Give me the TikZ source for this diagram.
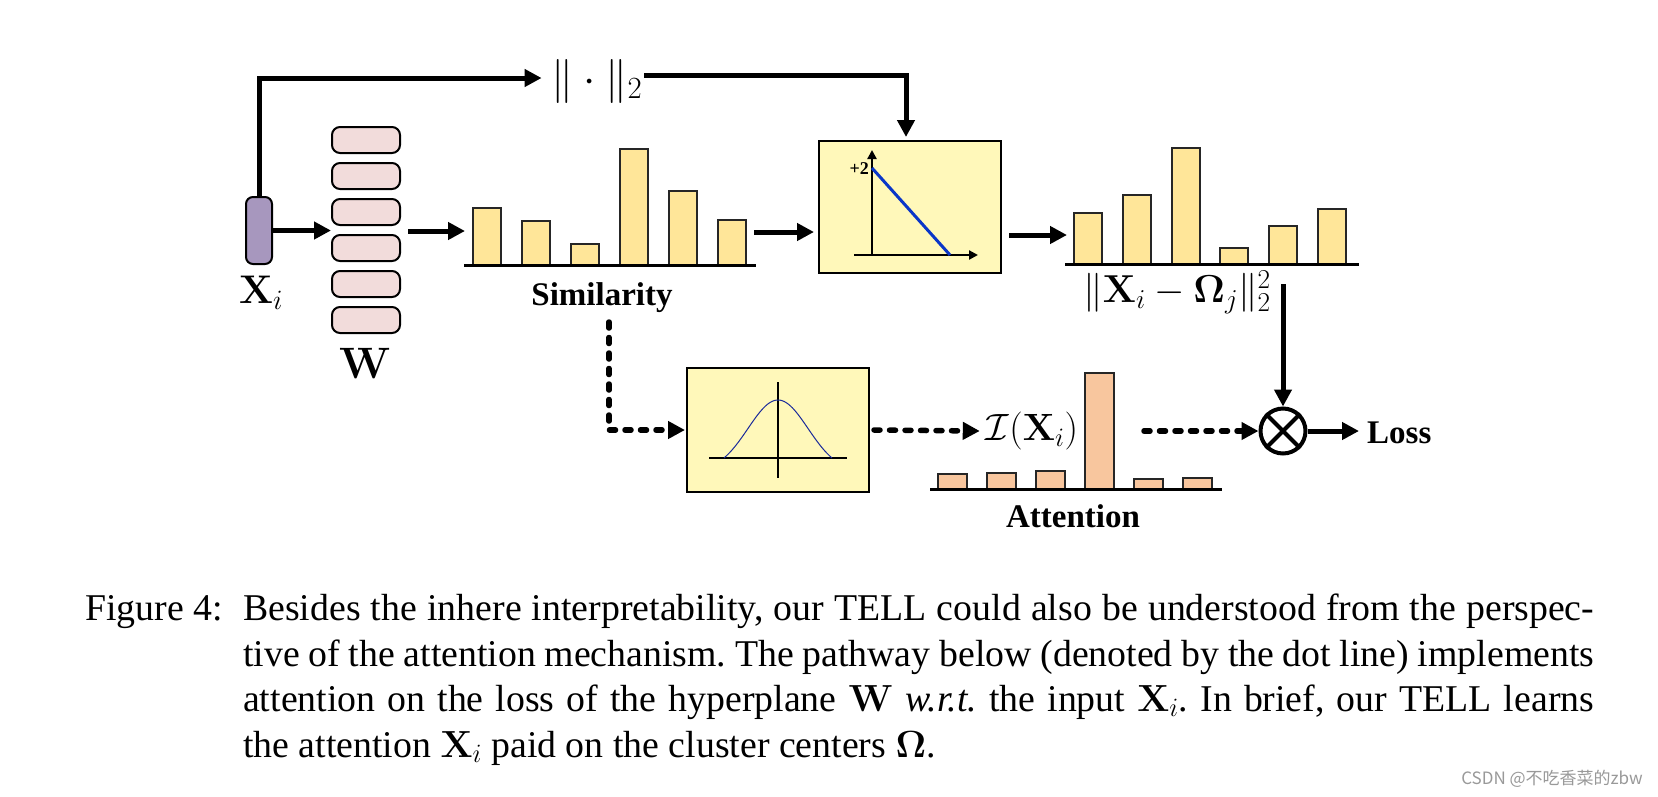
\RequirePackage{fix-cm}
\documentclass[tikz,border=0pt]{standalone}
\usepackage{amsmath}
\usepackage[no-math]{fontspec}
\setmainfont{Liberation Serif}
\newfontfamily\cjkfont{Noto Sans CJK SC}
\usetikzlibrary{arrows.meta,calc}
\newcommand\fsz[1]{\fontsize{#1}{#1}\selectfont}
\definecolor{xipurple}{HTML}{A797BE}
\definecolor{wpink}{HTML}{F2DCDB}
\definecolor{baryel}{HTML}{FFE699}
\definecolor{boxyel}{HTML}{FFF8BA}
\definecolor{peach}{HTML}{F8C69E}
\definecolor{lineblue}{HTML}{0A36C8}
\definecolor{navy}{HTML}{1A2A9A}
\frenchspacing
\begin{document}
\begin{tikzpicture}[x=1pt,y=-1pt,
  arr/.style={line width=5pt,-{Triangle[length=17pt,width=17pt]}},
  darr/.style={line width=5.5pt,line cap=round,dash pattern=on 6pt off 9.5pt,-{Triangle[length=17pt,width=17pt]}},
  xibox/.style={draw,line width=2pt,fill=xipurple,rounded corners=7pt,minimum width=26pt,minimum height=67pt,inner sep=0pt},
  wbox/.style={draw,line width=2pt,fill=wpink,rounded corners=8pt,minimum width=68pt,minimum height=26pt,inner sep=0pt},
  fnbox/.style={draw,line width=2pt,fill=boxyel,inner sep=0pt},
  sbar/.style={draw=black!85,line width=1.5pt,fill=baryel},
  abar/.style={draw=black!85,line width=1.5pt,fill=peach},
  baseln/.style={line width=3pt},
  axln/.style={line width=2.2pt},
  blab/.style={font=\bfseries\fsz{33},inner sep=0pt},
  captxt/.style={font=\fontsize{37.8}{45}\selectfont,inner sep=0pt,anchor=base west}]
\fill[white] (0,0) rectangle (1658,796);
\useasboundingbox (0,0) rectangle (1658,796);

% input and W
\node[xibox] (xi) at (259,230.5) {};
\node[font=\fsz{40},anchor=base,inner sep=0pt] (xil) at (261,303) {$\mathbf{X}_i$};
\foreach \k/\yy in {1/140,2/176,3/212,4/248,5/284,6/320}
  \node[wbox] (w\k) at (366,\yy) {};
\node[font=\fsz{44},anchor=base,inner sep=0pt] (wl) at (365,378) {$\mathbf{W}$};
\draw[arr] (xi.east) -- (xi.east -| w1.west);

% norm
\node[font=\fsz{44},anchor=base,inner sep=0pt] (norm) at (597,92) {$\|\cdot\|_2$};
\draw[arr] (xi.north) |- ([xshift=-10pt,yshift=3pt]norm.west);

% similarity chart
\foreach \x/\t in {473/208,522/221,571/244,620/149,669/191,718/220}
  \draw[sbar] (\x,265) rectangle (\x+28,\t);
\draw[baseln] (464,265) -- (756,265);
\node[blab,anchor=base] (siml) at (602,305) {Similarity};
\coordinate (simIn) at (465,231);
\draw[arr] ($(w1.east |- simIn)+(7,0)$) -- (simIn);

% linear box
\node[fnbox,minimum width=182pt,minimum height=132pt] (box1) at (910,207) {};
\draw[axln,-{Triangle[length=9pt,width=9pt]}] (872,255) -- (872,150);
\draw[axln,-{Triangle[length=9pt,width=9pt]}] (854,255) -- (978,255);
\draw[line width=3pt,lineblue] (872,168) -- (950,255);
\node[font=\bfseries\fsz{18},anchor=east,inner sep=0pt] (p2) at (869,169) {+2};
\draw[arr,shorten >=3pt] ([xshift=2pt,yshift=6pt]norm.east) -| ([xshift=-4pt]box1.north);
\coordinate (simOut) at (754,232);
\draw[arr,shorten >=4pt] (simOut) -- (simOut -| box1.west);

% distance chart
\foreach \x/\t in {1074/213,1123/195,1172/148,1220/248,1269/226,1318/209}
  \draw[sbar] (\x,264) rectangle (\x+28,\t);
\draw[baseln] (1065,264) -- (1359,264);
\coordinate (dIn) at (1067,235);
\draw[arr] ($(box1.east |- dIn)+(7,0)$) -- (dIn);
\node[font=\fsz{39},inner sep=0pt] (dlab) at (1177,292) {$\|\mathbf{X}_i-\mathbf{\Omega}_j\|_2^2$};

% gaussian box
\node[fnbox,minimum width=182pt,minimum height=124pt] (box2) at (778,430) {};
\draw[line width=1.8pt] (778,382) -- (778,478);
\draw[line width=1.8pt] (709,458) -- (847,458);
\draw[line width=1pt,navy,domain=-54:54,samples=80,smooth]
  plot ({778+\x},{458-58*(exp(-0.5*(\x/30)*(\x/30))-0.1979)/0.8021});
\coordinate (sDot) at (609,322);
\draw[darr,shorten >=1pt] (sDot) |- (box2.west);

% attention chart
\foreach \x/\t in {938/474,987/473,1036/471,1085/373,1134/479,1183/478}
  \draw[abar] (\x,489) rectangle (\x+29,\t);
\draw[baseln] (930,489) -- (1222,489);
\node[blab,anchor=base] (attl) at (1073,527) {Attention};
\node[font=\fsz{38},inner xsep=6pt,inner ysep=0pt] (Ilab) at (1032,431) {$\mathcal{I}(\mathbf{X}_i)$};
\draw[darr] ($(box2.east)+(4,0)$) -- (Ilab.west);

% product and loss
\node[circle,draw,line width=4pt,minimum size=45pt,inner sep=0pt] (ot) at (1283,431) {};
\draw[line width=4pt] (ot.north west) -- (ot.south east) (ot.north east) -- (ot.south west);
\coordinate (aOut) at (1144,431);
\draw[darr] (aOut) -- (ot.west);
\coordinate (dOut) at (1283,284);
\draw[arr] (dOut) -- (ot.north);
\node[blab,anchor=base west] (loss) at (1367,443) {Loss};
\draw[arr] (ot.east) -- ($(ot.east -| loss.west)+(-8,0)$);

% caption
\node[captxt] (figl) at (85,620) {Figure 4:};
\node[captxt] (c1) at (243,620) {\makebox[1351pt][s]{Besides the inhere interpretability, our TELL could also be understood from the perspec-}};
\node[captxt] (c2) at (243,666) {\makebox[1351pt][s]{tive of the attention mechanism. The pathway below (denoted by the dot line) implements}};
\node[captxt] (c3) at (243,711) {\makebox[1351pt][s]{attention on the loss of the hyperplane $\mathbf{W}$ \textit{w.r.t.} the input $\mathbf{X}_i$. In brief, our TELL learns}};
\node[captxt] (c4) at (243,757) {the attention $\mathbf{X}_i$ paid on the cluster centers $\mathbf{\Omega}$.};

% watermark
\node[font=\cjkfont\fsz{17},text=black!40,anchor=base east,inner sep=0pt] (wm) at (1643,784) {CSDN @不吃香菜的zbw};
\end{tikzpicture}
\end{document}
